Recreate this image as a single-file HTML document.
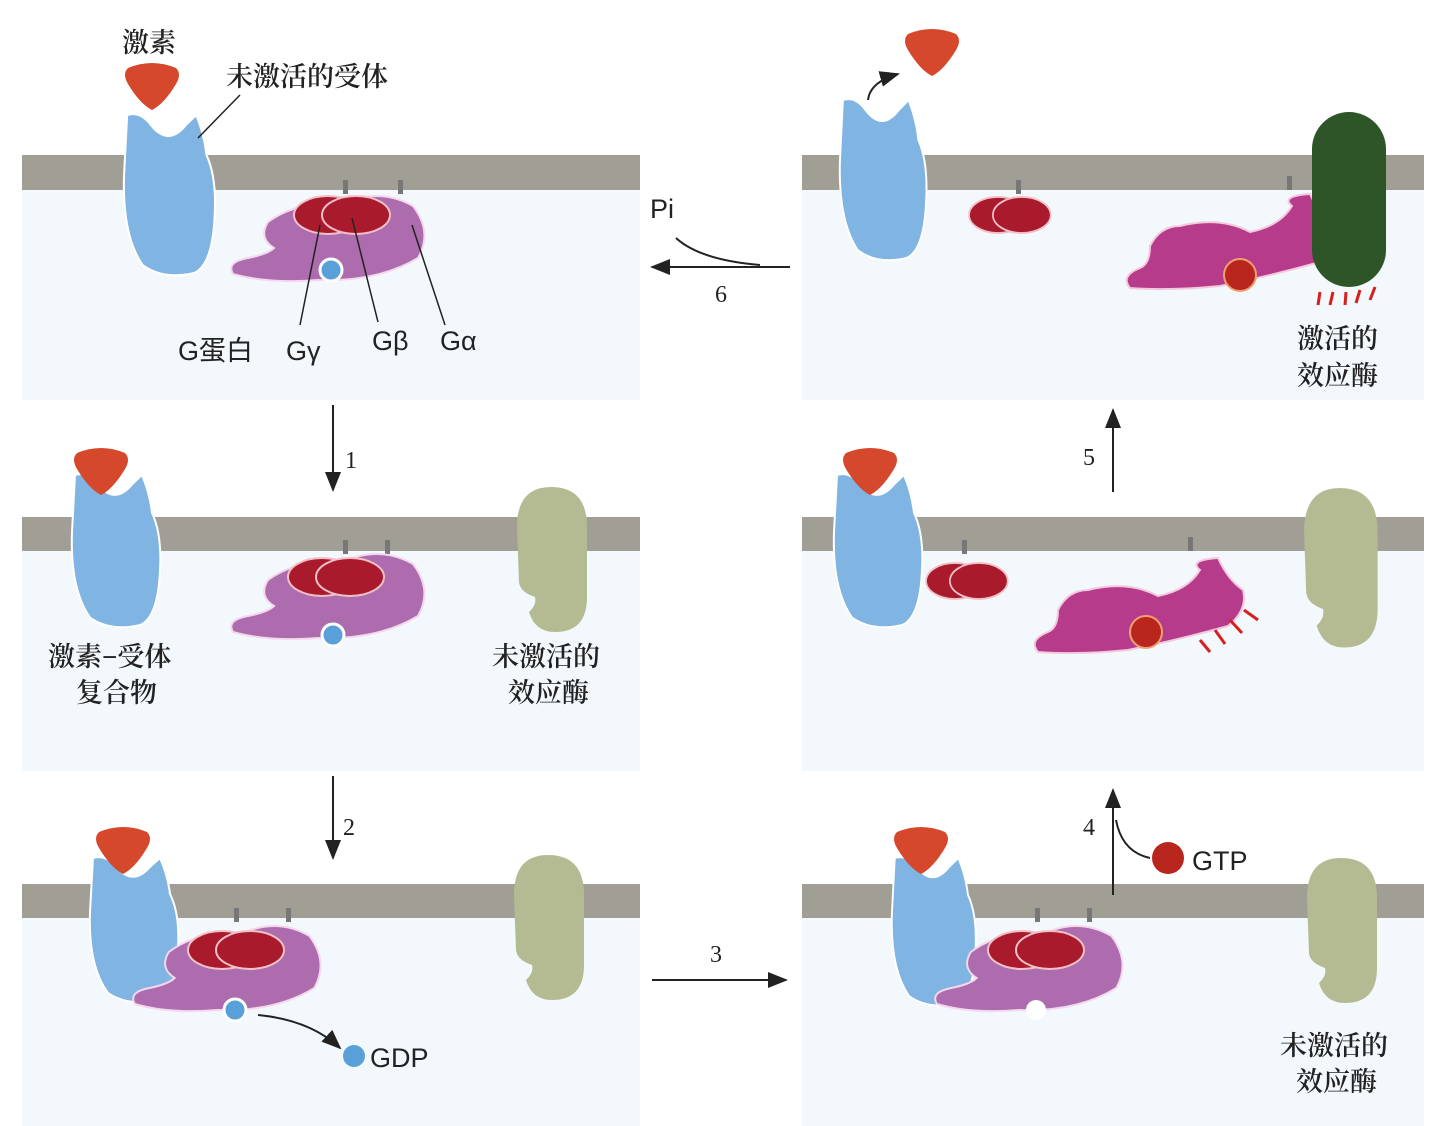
<!DOCTYPE html>
<html><head><meta charset="utf-8"><style>
body{margin:0;background:#fff}
svg{display:block}
.t{font-family:"Liberation Serif","Noto Serif CJK SC",serif;font-size:27px;fill:#222;font-weight:600}
.s{font-family:"Liberation Sans","Noto Sans CJK SC",sans-serif;font-size:27px;fill:#222}
.n{font-family:"Liberation Serif",serif;font-size:24px;fill:#222}
</style></head><body>
<svg width="1442" height="1126" viewBox="0 0 1442 1126">
<defs>
<marker id="ah" markerWidth="10" markerHeight="8" refX="9" refY="4" orient="auto"><path d="M0,0 L10,4 L0,8 Z" fill="#222"/></marker>
<path id="rec" d="M5,0 Q18,-4 28,10 Q45,32 62,10 L72,0 Q80,20 82,40 Q92,62 90,100 Q88,150 70,158 Q40,165 20,150 Q0,120 2,60 Z" fill="#80b4e2" stroke="#fff" stroke-width="2"/>
<path id="horm" d="M4,6 Q28,-4 52,6 Q58,12 52,22 Q40,42 28,48 Q16,42 4,22 Q-2,12 4,6Z" fill="#d6482b"/>
<path id="galpha" d="M40,30 Q70,8 110,14 Q150,-6 185,14 Q205,40 190,66 Q150,90 90,88 Q40,92 5,82 Q-2,70 20,66 Q40,62 46,56 Q30,46 40,30Z" fill="#ad6cae" stroke="#f4d8ee" stroke-width="2"/>
<path id="gact" d="M60,30 Q100,20 130,36 Q160,30 172,10 Q160,0 190,-2 Q200,20 215,30 Q220,50 200,66 Q150,80 100,90 Q50,95 10,92 Q0,80 20,72 Q30,68 30,50 Q40,30 60,30Z" fill="#b63b8a" stroke="#f3c9de" stroke-width="2"/>
<g id="gbg"><ellipse cx="0" cy="0" rx="34" ry="19" fill="#a81a2c" stroke="#f3c0c8" stroke-width="2"/><ellipse cx="28" cy="0" rx="34" ry="19" fill="#a81a2c" stroke="#f3c0c8" stroke-width="2"/></g>
<path id="eff" d="M36,0 Q72,0 72,40 L72,110 Q72,145 40,145 Q20,145 14,125 Q22,118 20,110 Q5,105 4,95 L2,40 Q2,0 36,0Z" fill="#b4bb93"/>
</defs>

<g fill="#f2f8fb">
<rect x="22" y="190" width="618" height="210"/><rect x="802" y="190" width="622" height="210"/>
<rect x="22" y="551" width="618" height="220"/><rect x="802" y="551" width="622" height="220"/>
<rect x="22" y="918" width="618" height="208"/><rect x="802" y="918" width="622" height="208"/>
</g>
<g fill="#a09e95">
<rect x="22" y="155" width="618" height="35"/><rect x="802" y="155" width="622" height="35"/>
<rect x="22" y="517" width="618" height="34"/><rect x="802" y="517" width="622" height="34"/>
<rect x="22" y="884" width="618" height="34"/><rect x="802" y="884" width="622" height="34"/>
</g>

<g>
<use href="#rec" transform="translate(122,115) scale(1.03,1)"/>
<use href="#horm" transform="translate(124,62)"/>
<rect x="343" y="180" width="5" height="14" fill="#777"/><rect x="398" y="180" width="5" height="14" fill="#777"/>
<use href="#galpha" transform="translate(228,192)"/>
<use href="#gbg" transform="translate(328,215)"/>
<circle cx="331" cy="270" r="11" fill="#5aa0d8" stroke="#fff" stroke-width="3"/>
<g stroke="#222" stroke-width="1.5"><line x1="198" y1="138" x2="240" y2="95"/><line x1="320" y1="225" x2="300" y2="325"/><line x1="352" y1="218" x2="378" y2="322"/><line x1="412" y1="225" x2="445" y2="325"/></g>
<text class="t" x="122" y="52">激素</text>
<text class="t" x="226" y="86">未激活的受体</text>
<text class="s" x="178" y="360">G蛋白</text>
<text class="s" x="286" y="360">Gγ</text>
<text class="s" x="372" y="350">Gβ</text>
<text class="s" x="440" y="350">Gα</text>
</g>

<g>
<use href="#rec" transform="translate(70,475) scale(1,0.95)"/>
<use href="#horm" transform="translate(73,447)"/>
<rect x="343" y="540" width="5" height="14" fill="#777"/><rect x="385" y="540" width="5" height="14" fill="#777"/>
<use href="#galpha" transform="translate(228,550)"/>
<use href="#gbg" transform="translate(322,577)"/>
<circle cx="333" cy="635" r="11" fill="#5aa0d8" stroke="#fff" stroke-width="3"/>
<use href="#eff" transform="translate(515,487)"/>
<text class="t" x="48" y="666">激素−受体</text>
<text class="t" x="76" y="702">复合物</text>
<text class="t" x="492" y="666">未激活的</text>
<text class="t" x="508" y="702">效应酶</text>
</g>

<g>
<use href="#rec" transform="translate(88,858) scale(1,0.9)"/>
<use href="#horm" transform="translate(95,826)"/>
<rect x="234" y="908" width="5" height="14" fill="#777"/><rect x="286" y="908" width="5" height="14" fill="#777"/>
<use href="#galpha" transform="translate(130,922) scale(0.97,1)"/>
<use href="#gbg" transform="translate(222,950)"/>
<circle cx="235" cy="1010" r="11" fill="#5aa0d8" stroke="#fff" stroke-width="3"/>
<use href="#eff" transform="translate(512,855)"/>
<path d="M258,1015 Q310,1020 340,1048" fill="none" stroke="#222" stroke-width="2" marker-end="url(#ah)"/>
<circle cx="354" cy="1056" r="11" fill="#5aa0d8"/>
<text class="s" x="370" y="1067">GDP</text>
</g>

<g>
<use href="#rec" transform="translate(890,858) scale(0.95,0.92)"/>
<use href="#horm" transform="translate(893,826)"/>
<rect x="1035" y="908" width="5" height="14" fill="#777"/><rect x="1087" y="908" width="5" height="14" fill="#777"/>
<use href="#galpha" transform="translate(932,922) scale(0.97,1)"/>
<use href="#gbg" transform="translate(1022,950)"/>
<circle cx="1036" cy="1010" r="10" fill="#fff"/>
<use href="#eff" transform="translate(1305,858)"/>
<circle cx="1168" cy="858" r="16" fill="#b8261e"/>
<text class="s" x="1192" y="870">GTP</text>
<text class="t" x="1280" y="1055">未激活的</text>
<text class="t" x="1296" y="1091">效应酶</text>
</g>

<g>
<use href="#rec" transform="translate(832,475) scale(1,0.95)"/>
<use href="#horm" transform="translate(842,447)"/>
<rect x="962" y="540" width="5" height="14" fill="#777"/><rect x="1188" y="537" width="5" height="14" fill="#777"/>
<use href="#gbg" transform="translate(955,581) scale(0.85,0.95)"/>
<use href="#gact" transform="translate(1028,560)"/>
<circle cx="1146" cy="632" r="16" fill="#b8261e" stroke="#f0a070" stroke-width="2"/>
<use href="#eff" transform="translate(1302,488) scale(1.05,1.1)"/>
<g stroke="#d62020" stroke-width="3"><line x1="1200" y1="640" x2="1210" y2="652"/><line x1="1215" y1="630" x2="1225" y2="644"/><line x1="1230" y1="620" x2="1242" y2="633"/><line x1="1244" y1="610" x2="1258" y2="620"/></g>
</g>

<g>
<use href="#rec" transform="translate(838,100) scale(0.98,1)"/>
<use href="#horm" transform="translate(904,28)"/>
<path d="M868,100 Q870,82 898,74" fill="none" stroke="#222" stroke-width="2" marker-end="url(#ah)"/>
<rect x="1016" y="180" width="5" height="14" fill="#777"/><rect x="1287" y="176" width="5" height="14" fill="#777"/>
<use href="#gbg" transform="translate(998,215) scale(0.85,0.95)"/>
<use href="#gact" transform="translate(1120,196)"/>
<circle cx="1240" cy="275" r="16" fill="#b8261e" stroke="#f0a070" stroke-width="2"/>
<rect x="1312" y="112" width="74" height="175" rx="37" fill="#2e5528"/>
<g stroke="#d62020" stroke-width="3"><line x1="1320" y1="292" x2="1318" y2="305"/><line x1="1333" y1="292" x2="1330" y2="305"/><line x1="1346" y1="292" x2="1345" y2="305"/><line x1="1360" y1="290" x2="1356" y2="303"/><line x1="1375" y1="287" x2="1370" y2="300"/></g>
<text class="t" x="1297" y="348">激活的</text>
<text class="t" x="1297" y="385">效应酶</text>
</g>

<g stroke="#222" stroke-width="2" fill="none">
<line x1="333" y1="405" x2="333" y2="490" marker-end="url(#ah)"/>
<line x1="333" y1="776" x2="333" y2="858" marker-end="url(#ah)"/>
<line x1="652" y1="980" x2="786" y2="980" marker-end="url(#ah)"/>
<line x1="1113" y1="895" x2="1113" y2="790" marker-end="url(#ah)"/>
<path d="M1150,858 Q1122,852 1116,820"/>
<line x1="1113" y1="492" x2="1113" y2="410" marker-end="url(#ah)"/>
<line x1="790" y1="267" x2="652" y2="267" marker-end="url(#ah)"/>
<path d="M676,238 Q700,260 760,265"/>
</g>
<text class="n" x="345" y="468">1</text>
<text class="n" x="343" y="835">2</text>
<text class="n" x="710" y="962">3</text>
<text class="n" x="1083" y="835">4</text>
<text class="n" x="1083" y="465">5</text>
<text class="n" x="715" y="302">6</text>
<text class="s" x="650" y="218">Pi</text>
</svg>
</body></html>
